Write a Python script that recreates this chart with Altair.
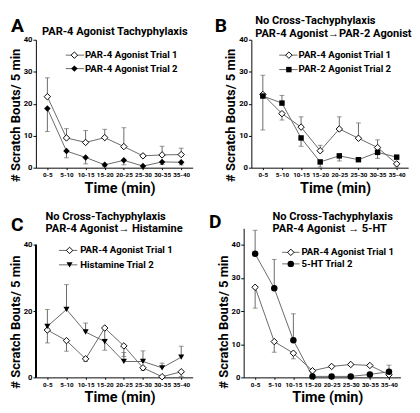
import altair as alt
import pandas as pd

FONT = "Roboto"
LINE = "#666666"
TIMES = ["0-5", "5-10", "10-15", "15-20", "20-25", "25-30", "30-35", "35-40"]

# Panel A
A_T1 = [22.2, 9.3, 7.9, 9.4, 6.6, 3.7, 4.0, 4.1]
A_T1_ERR = [28.1, 12.2, 11.6, 12.0, 12.5, 4.2, 6.7, 6.1]
A_T2 = [18.5, 5.2, 3.2, 0.9, 2.3, 0.5, 1.8, 1.7]
A_T2_ERR = [11.3, 3.1, 1.2, 0.3, 0.9, 0.2, 1.0, 0.9]
A_LABELS = ["PAR-4 Agonist Trial 1", "PAR-4 Agonist Trial 2"]
A_TITLE = ["PAR-4 Agonist Tachyphylaxis"]

# Panel B
B_T1 = [22.9, 16.9, 12.7, 5.3, 12.1, 9.2, 6.3, 1.2]
B_T1_ERR = [28.9, 14.9, 15.9, 7.0, 15.9, 14.0, 8.7, 0.2]
B_T2 = [22.4, 20.2, 9.3, 1.8, 3.7, 2.5, 4.8, 3.3]
B_T2_ERR = [11.8, 22.6, 6.7, 0.2, 2.1, 2.5, 2.9, 3.3]
B_LABELS = ["PAR-4 Agonist Trial 1", "PAR-2 Agonist Trial 2"]
B_TITLE = ["No Cross-Tachyphylaxis", "PAR-4 Agonist\u2192PAR-2 Agonist"]

# Panel C
C_T1 = [14.3, 11.1, 5.6, 14.9, 9.5, 2.9, 0.2, 1.7]
C_T1_ERR = [10.4, 7.9, 4.8, 11.5, 6.3, 2.1, 0.2, 0.3]
C_T2 = [15.4, 20.5, 13.7, 10.8, 4.8, 4.8, 2.9, 6.1]
C_T2_ERR = [20.5, 28.0, 16.4, 8.2, 7.5, 8.0, 4.3, 9.4]
C_LABELS = ["PAR-4 Agonist Trial 1", "Histamine Trial 2"]
C_TITLE = ["No Cross-Tachyphylaxis", "PAR-4 Agonist\u2192 Histamine"]

# Panel D
D_T1 = [27.2, 10.8, 7.3, 2.0, 3.3, 3.9, 3.6, 0.8]
D_T1_ERR = [20.9, 7.6, 5.6, 2.0, 3.3, 3.9, 3.6, 0.8]
D_T2 = [37.3, 26.9, 11.2, 0.3, 0.3, 0.3, 0.9, 1.7]
D_T2_ERR = [44.4, 35.6, 19.2, 0.3, 0.3, 0.3, 0.9, 3.7]
D_LABELS = ["PAR-4 Agonist Trial 1", "5-HT Trial 2"]
D_TITLE = ["No Cross-Tachyphylaxis", "PAR-4 Agonist \u2192 5-HT"]

W = 163


def panel(letter, letter_pos, title, title_pos, title_align, t1, e1, t2, e2,
          shape2, size2, labels, leg, ymax, height, ytitle_y, manual_domain):
    df1 = pd.DataFrame({"t": TIMES, "v": t1, "e": e1})
    df2 = pd.DataFrame({"t": TIMES, "v": t2, "e": e2})
    xaxis = alt.Axis(title="Time (min)", titleFont=FONT, titleFontSize=15,
                     titleFontWeight="bold", titleColor="black", titleX=87,
                     titlePadding=3, labelFont=FONT, labelFontSize=6.5,
                     labelFontWeight="bold", labelColor="black", labelAngle=0,
                     labelPadding=2, labelOverlap=False, tickSize=2,
                     tickColor="black", domainColor="black", grid=False)
    yaxis = alt.Axis(title="# Scratch Bouts/ 5 min", titleFont=FONT,
                     titleFontSize=13.5, titleFontWeight="bold",
                     titleColor="black", titleY=ytitle_y, titlePadding=1,
                     values=[0, 10, 20, 30, 40], labelFont=FONT,
                     labelFontSize=8, labelFontWeight="bold",
                     labelColor="black", labelPadding=1, tickSize=3,
                     tickColor="black", domainColor="black",
                     domain=not manual_domain, grid=False)
    x = alt.X("t:N", sort=TIMES, scale=alt.Scale(type="point", padding=0.6),
              axis=xaxis)
    ysc = alt.Scale(domain=[0, ymax], nice=False)
    y = alt.Y("v:Q", scale=ysc, axis=yaxis)
    ye = alt.Y("e:Q", scale=ysc, axis=yaxis)

    layers = []
    for df in (df1, df2):
        b = alt.Chart(df)
        layers.append(b.mark_line(color=LINE, strokeWidth=1).encode(x=x, y=y))
    for df in (df1, df2):
        b = alt.Chart(df)
        layers.append(b.mark_rule(color=LINE, strokeWidth=1).encode(x=x, y=y, y2="e:Q"))
        layers.append(b.mark_tick(color=LINE, size=5, thickness=1).encode(x=x, y=ye))
    layers.append(alt.Chart(df1).mark_point(shape="diamond", filled=True, fill="white",
                                            stroke="black", strokeWidth=1, size=45,
                                            opacity=1).encode(x=x, y=y))
    layers.append(alt.Chart(df2).mark_point(shape=shape2, filled=True, color="black",
                                            size=size2, opacity=1).encode(x=x, y=y))
    if manual_domain:
        layers.append(alt.Chart(df1).mark_rule(color="black", strokeWidth=1).encode(
            x=alt.value(0), y=alt.datum(0), y2=alt.datum(40)))

    # legend
    lx0, lx1, lm, lt, ly = leg
    for i, lab in enumerate(labels):
        ld = alt.Chart(pd.DataFrame({"label": [lab]}))
        layers.append(ld.mark_rule(color=LINE, strokeWidth=1).encode(
            x=alt.value(lx0), x2=alt.value(lx1), y=alt.value(ly[i])))
        if i == 0:
            pm = ld.mark_point(shape="diamond", filled=True, fill="white", stroke="black",
                               strokeWidth=1, size=45, opacity=1)
        else:
            pm = ld.mark_point(shape=shape2, filled=True, color="black", size=size2, opacity=1)
        layers.append(pm.encode(x=alt.value(lm), y=alt.value(ly[i])))
        layers.append(ld.mark_text(font=FONT, fontSize=10, fontWeight="bold", align="left",
                                   baseline="middle", color="black").encode(
            text="label:N", x=alt.value(lt), y=alt.value(ly[i])))

    # panel letter
    layers.append(alt.Chart(pd.DataFrame({"label": [letter]})).mark_text(
        font=FONT, fontSize=20, fontWeight="bold", align="left", baseline="top",
        color="black").encode(text="label:N", x=alt.value(letter_pos[0]),
                               y=alt.value(letter_pos[1])))
    # title lines
    for i, line in enumerate(title):
        layers.append(alt.Chart(pd.DataFrame({"label": [line]})).mark_text(
            font=FONT, fontSize=11.5, fontWeight="bold", align=title_align,
            baseline="top", color="black").encode(
            text="label:N", x=alt.value(title_pos[0]), y=alt.value(title_pos[1][i])))

    return alt.layer(*layers).properties(width=W, height=height)


pA = panel("A", (-26, -24), A_TITLE, (82, [-14]), "center", A_T1, A_T1_ERR, A_T2, A_T2_ERR,
           "diamond", 45, A_LABELS, (31, 50, 40, 51, [16, 30]), 40, 133, 78, False)
pB = panel("B", (-38, -24), B_TITLE, (4, [-25, -12]), "left", B_T1, B_T1_ERR, B_T2, B_T2_ERR,
           "square", 32, B_LABELS, (29, 48, 39, 49, [16, 31]), 40, 133, 78, False)
pC = panel("C", (-26, -13), C_TITLE, (10, [-18, -5]), "left", C_T1, C_T1_ERR, C_T2, C_T2_ERR,
           "triangle-down", 40, C_LABELS, (24, 43, 35, 46, [23, 38]), 45, 155, 97, True)
pD = panel("D", (-36, -16), D_TITLE, (30, [-18, -5]), "left", D_T1, D_T1_ERR, D_T2, D_T2_ERR,
           "circle", 45, D_LABELS, (40, 58, 49, 60, [25, 37]), 45, 155, 97, False)

chart = alt.vconcat(
    alt.hconcat(pA, pB, spacing=23),
    alt.hconcat(pC, pD, spacing=17),
    spacing=16,
).properties(padding=0, background="white").configure_view(stroke=None)

chart.save("out.html", embed_options={"renderer": "svg", "actions": False})
